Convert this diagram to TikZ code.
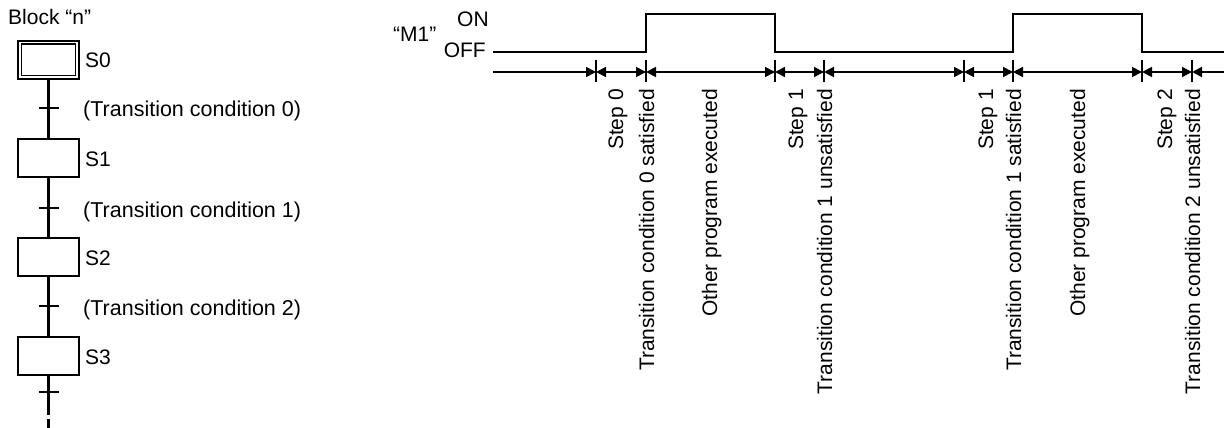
\documentclass[tikz,border=0pt]{standalone}
\usepackage{fontspec}
\setmainfont{Liberation Sans}
\usetikzlibrary{arrows.meta,calc}
\begin{document}
\begin{tikzpicture}[x=1pt,y=-1pt,
  lbl/.style={font=\fontsize{21}{25}\selectfont, inner sep=0pt},
  biglbl/.style={font=\fontsize{21.5}{25}\selectfont, inner sep=0pt},
  stepbox/.style={draw, line width=1.5pt, minimum width=61pt, minimum height=38pt, inner sep=0pt},
  flow/.style={line width=2.2pt},
  tickmark/.style={line width=2.2pt},
  vlbl/.style={lbl, rotate=90, anchor=base east},
  dim/.style={line width=1.7pt},
  >={Triangle[length=10pt,width=10pt]}
]
\useasboundingbox (0,0) rectangle (1224,428);

% ---------- left: SFC chart ----------
\node[lbl, anchor=base west] (blk) at (8,25) {Block “n”};

\node[stepbox] (S0) at (48.5,60) {};
\draw[line width=1.5pt] ([shift={(4,4)}]S0.north west) rectangle ([shift={(-4.5,-4)}]S0.south east);
\node[stepbox] (S1) at (48.5,158) {};
\node[stepbox] (S2) at (48.5,257) {};
\node[stepbox] (S3) at (48.5,356) {};
\coordinate (E1) at (48.5,415);
\coordinate (E2) at (48.5,419);
\coordinate (E3) at (48.5,428);

\draw[flow] (S0) -- (S1);
\draw[flow] (S1) -- (S2);
\draw[flow] (S2) -- (S3);
\draw[flow] (S3.south) -- (E1);
\draw[flow] (E2) -- (E3);

\draw[tickmark] (38.5,108) -- (58.5,108);
\draw[tickmark] (38.5,208) -- (58.5,208);
\draw[tickmark] (38.5,306) -- (58.5,306);
\draw[tickmark] (38.5,392) -- (58.5,392);

\node[lbl, anchor=base west] (n0) at (85,68) {S0};
\node[lbl, anchor=base west] (n1) at (85,166) {S1};
\node[lbl, anchor=base west] (n2) at (85,265) {S2};
\node[lbl, anchor=base west] (n3) at (85,364) {S3};

\node[biglbl, anchor=base west] (c0) at (83,117) {(Transition condition 0)};
\node[biglbl, anchor=base west] (c1) at (83,217) {(Transition condition 1)};
\node[biglbl, anchor=base west] (c2) at (83,315) {(Transition condition 2)};

% ---------- right: timing chart ----------
\node[lbl, anchor=base west] (m1) at (393,42) {“M1”};
\node[lbl, anchor=base west] (on) at (457,27) {ON};
\node[lbl, anchor=base east] (off) at (486,58) {OFF};

\draw[line width=2.2pt] (493,52) -- (646,52) -- (646,14) -- (775,14) -- (775,52)
  -- (1013,52) -- (1013,14) -- (1142,14) -- (1142,52) -- (1224,52);

\coordinate (a0) at (493,72);
\coordinate (t1) at (596,72);
\coordinate (t2) at (646,72);
\coordinate (t3) at (775,72);
\coordinate (t4) at (824,72);
\coordinate (t5) at (964,72);
\coordinate (t6) at (1013,72);
\coordinate (t7) at (1142,72);
\coordinate (t8) at (1192,72);
\coordinate (a9) at (1224,72);

\draw[dim,->] (a0) -- (t1);
\draw[dim,<->] (t1) -- (t2);
\draw[dim,<->] (t2) -- (t3);
\draw[dim,<->] (t3) -- (t4);
\draw[dim,<->] (t4) -- (t5);
\draw[dim,<->] (t5) -- (t6);
\draw[dim,<->] (t6) -- (t7);
\draw[dim,<->] (t7) -- (t8);
\draw[dim,<-] (t8) -- (a9);

\foreach \t in {t1,t2,t3,t4,t5,t6,t7,t8}
  \draw[tickmark] ($(\t)+(0,-12)$) -- ($(\t)+(0,10)$);

\node[vlbl] (l1) at (623,89) {Step 0};
\node[vlbl] (l2) at (654,89) {Transition condition 0 satisfied};
\node[vlbl] (l3) at (717,89) {Other program executed};
\node[vlbl] (l4) at (803,89) {Step 1};
\node[vlbl] (l5) at (832,89) {Transition condition 1 unsatisfied};
\node[vlbl] (l6) at (993,89) {Step 1};
\node[vlbl] (l7) at (1021,89) {Transition condition 1 satisfied};
\node[vlbl] (l8) at (1085,89) {Other program executed};
\node[vlbl] (l9) at (1172,89) {Step 2};
\node[vlbl] (l10) at (1200,89) {Transition condition 2 unsatisfied};
\end{tikzpicture}
\end{document}
